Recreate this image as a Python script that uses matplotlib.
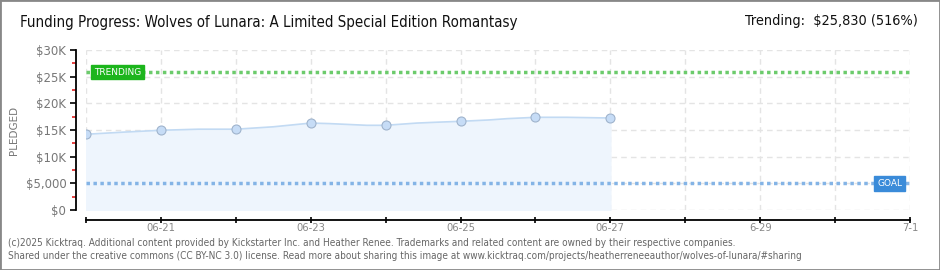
import matplotlib
matplotlib.use("Agg")
import matplotlib.pyplot as plt
import matplotlib.dates as mdates
import pandas as pd
from matplotlib.ticker import FixedLocator, FuncFormatter

# ---- data ----
day_dates = ["2025-06-20", "2025-06-21", "2025-06-22", "2025-06-23", "2025-06-24",
             "2025-06-25", "2025-06-26", "2025-06-27"]
day_pledged = [14200, 14950, 15150, 16300, 15880, 16630, 17380, 17250]

line_dates = ["2025-06-20 00:00", "2025-06-20 12:00", "2025-06-21 00:00", "2025-06-21 12:00",
              "2025-06-22 00:00", "2025-06-22 12:00", "2025-06-23 00:00", "2025-06-23 06:00",
              "2025-06-23 18:00", "2025-06-24 00:00", "2025-06-24 10:00", "2025-06-24 16:00",
              "2025-06-25 00:00", "2025-06-25 09:00", "2025-06-25 15:00", "2025-06-26 00:00",
              "2025-06-26 10:00", "2025-06-27 00:00"]
line_pledged = [14200, 14600, 14950, 15150, 15150, 15600, 16300, 16200,
                15880, 15880, 16300, 16450, 16630, 16880, 17130, 17380,
                17380, 17250]

goal = 5000
trending = 25830
trending_pct = 516
title = "Funding Progress: Wolves of Lunara: A Limited Special Edition Romantasy"
y_ticks = [0, 5000, 10000, 15000, 20000, 25000, 30000]
y_labels = ["$0", "$5,000", "$10K", "$15K", "$20K", "$25K", "$30K"]
x_start, x_end = "2025-06-20", "2025-07-01"
x_label_dates = ["2025-06-21", "2025-06-23", "2025-06-25", "2025-06-27", "2025-06-29", "2025-07-01"]
x_labels = ["06-21", "06-23", "06-25", "06-27", "6-29", "7-1"]
footer1 = ("(c)2025 Kicktraq. Additional content provided by Kickstarter Inc. and Heather Renee. "
           "Trademarks and related content are owned by their respective companies.")
footer2 = ("Shared under the creative commons (CC BY-NC 3.0) license. Read more about sharing this image at "
           "www.kicktraq.com/projects/heatherreneeauthor/wolves-of-lunara/#sharing")

FONT = ["DejaVu Sans", "Liberation Sans"]
plt.rcParams['font.family'] = FONT

W, H = 940, 270
fig = plt.figure(figsize=(W / 100, H / 100), dpi=100)
fig.patch.set_facecolor("white")

ax = fig.add_axes([86 / W, 1 - 210 / H, (910 - 86) / W, 160 / H])
ax.set_facecolor("white")

dd = pd.to_datetime(day_dates)
ld = pd.to_datetime(line_dates)
x0, x1 = pd.Timestamp(x_start), pd.Timestamp(x_end)

# grid
days = pd.date_range(x0, x1, freq="D")
for d in days:
    ax.axvline(d, color="#e4e4e4", lw=1, ls=(0, (4, 3)), zorder=0)
for v in y_ticks:
    ax.axhline(v, color="#e4e4e4", lw=1, ls=(0, (4, 3)), zorder=0)

ax.fill_between(ld, line_pledged, 0, color="#eef5fd", zorder=1)
ax.plot(ld, line_pledged, color="#c2daf3", lw=1.2, zorder=2)
ax.scatter(dd, day_pledged, s=42, color="#c6dcf6", edgecolor="#9fb3cc", linewidth=0.8, zorder=4)

ax.axhline(trending, color="#6ccb6c", lw=2.5, ls=(0, (1, 1)), zorder=3)
ax.axhline(goal, color="#84b4e6", lw=2.5, ls=(0, (1, 1)), zorder=3)

ax.set_xlim(x0, x1)
ax.set_ylim(0, 30000)

for s in ["top", "right"]:
    ax.spines[s].set_visible(False)
ax.spines["left"].set_position(("outward", 7.2))
ax.spines["bottom"].set_position(("outward", 7.2))
ax.spines["left"].set_color("black")
ax.spines["bottom"].set_color("black")
ax.spines["left"].set_linewidth(1.3)
ax.spines["bottom"].set_linewidth(1.3)

ax.yaxis.set_major_locator(FixedLocator(y_ticks))
ax.set_yticklabels(y_labels)
ax.yaxis.set_minor_locator(FixedLocator([2500, 7500, 12500, 17500, 22500, 27500]))
ax.tick_params(axis="y", which="major", length=4, width=1.2, color="black",
               labelsize=8.5, labelcolor="#777777", pad=3)
ax.tick_params(axis="y", which="minor", length=3, width=1.2, color="#e02020")

ax.xaxis.set_major_locator(FixedLocator(mdates.date2num(days)))
ax.xaxis.set_major_formatter(FuncFormatter(lambda v, p: ""))
ax.tick_params(axis="x", which="major", length=4, width=1.2, direction="inout", color="black")
for d, lab in zip(pd.to_datetime(x_label_dates), x_labels):
    ax.text(d, -0.08, lab, transform=ax.get_xaxis_transform(), ha="center", va="top",
            fontsize=8, color="#888888", fontstretch="condensed")

ax.set_ylabel("PLEDGED", fontsize=7.5, color="#777777", labelpad=8)
ax.yaxis.set_label_coords(-67 / (910 - 86), 0.5)

# label boxes
ax.text(pd.Timestamp("2025-06-20 02:30"), trending, "TRENDING", fontsize=6.5, color="white",
        ha="left", va="center", zorder=6,
        bbox=dict(boxstyle="square,pad=0.3", fc="#1cb51c", ec="#1cb51c"))
ax.text(pd.Timestamp("2025-06-30 21:30"), goal, "GOAL", fontsize=6.5, color="white",
        ha="right", va="center", zorder=6,
        bbox=dict(boxstyle="square,pad=0.3", fc="#3a8bd9", ec="#3a8bd9"))

# titles
fig.text(20 / W, 1 - 23 / H, title, fontsize=10.8, color="#111111", ha="left", va="center",
         fontstretch="condensed")
fig.text(918 / W, 1 - 21 / H, f"Trending:  ${trending:,} ({trending_pct}%)", fontsize=10.4,
         color="#111111", ha="right", va="center", fontstretch="condensed")

fig.text(8 / W, 1 - 243 / H, footer1, fontsize=7.2, color="#666666", ha="left", va="center",
         fontstretch="condensed")
fig.text(8 / W, 1 - 256 / H, footer2, fontsize=7.2, color="#666666", ha="left", va="center",
         fontstretch="condensed")

# frame
fig.add_artist(plt.Rectangle((0, 0), 1, 1, transform=fig.transFigure, fill=False,
                             ec="#888888", lw=2))

fig.savefig("out.png", dpi=100, facecolor="white")
